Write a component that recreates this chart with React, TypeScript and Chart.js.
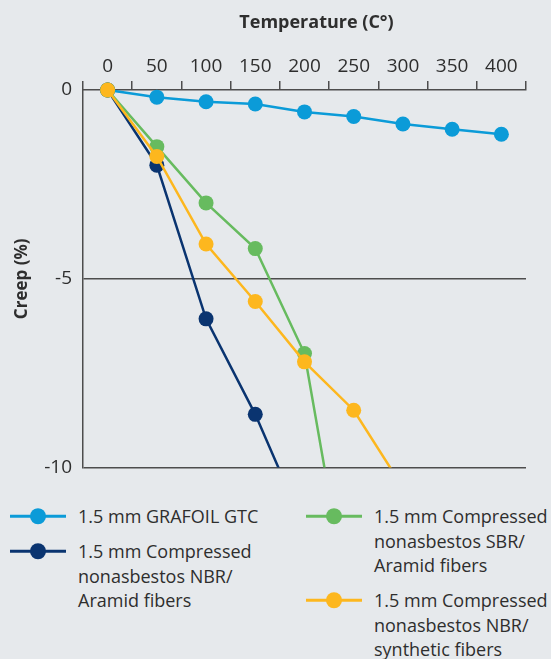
import React, { useEffect, useRef } from "react";
import { Chart, registerables } from "chart.js";

Chart.register(...registerables);

const temperatureLabels = ["0", "50", "100", "150", "200", "250", "300", "350", "400"];
const grafoilGtc = [0, -0.19, -0.31, -0.37, -0.58, -0.7, -0.9, -1.04, -1.17];
const nbrAramid = [0, -1.99, -6.06, -8.59, -11.59];
const sbrAramid = [0, -1.5, -2.99, -4.2, -6.98, -14.43];
const nbrSynthetic = [0, -1.76, -4.08, -5.6, -7.2, -8.48, -10.53];
const creepTicks = [-10, -5, 0];

const xTitle = "Temperature (C°)";
const yTitle = "Creep (%)";

const seriesColors = ["#0b9bd8", "#0a3470", "#67bb5f", "#fdb71e"];
const legendLines = [
  ["1.5 mm GRAFOIL GTC"],
  ["1.5 mm Compressed", "nonasbestos NBR/", "Aramid fibers"],
  ["1.5 mm Compressed", "nonasbestos SBR/", "Aramid fibers"],
  ["1.5 mm Compressed", "nonasbestos NBR/", "synthetic fibers"],
];

const FONT = "'Open Sans', sans-serif";
const TEXT = "#2e2e2e";
const AXIS = "#4d4d4d";
const BG = "#e6e9ec";

function LegendItem({ idx }: { idx: number }) {
  const color = seriesColors[idx];
  return (
    <div style={{ display: "flex", alignItems: "flex-start", marginBottom: 10.5 }}>
      <svg width={56} height={24.5} style={{ flex: "0 0 auto" }}>
        <line x1={0} y1={12.25} x2={56} y2={12.25} stroke={color} strokeWidth={3} />
        <circle cx={28} cy={12.25} r={8} fill={color} />
      </svg>
      <div style={{ marginLeft: 12, lineHeight: "24.5px", fontSize: 18, color: TEXT, whiteSpace: "nowrap" }}>
        {legendLines[idx].map((l, i) => (
          <div key={i}>{l}</div>
        ))}
      </div>
    </div>
  );
}

export default function App() {
  const canvasRef = useRef<HTMLCanvasElement>(null);

  useEffect(() => {
    const canvas = canvasRef.current;
    if (!canvas) return;
    const xTitlePlugin = {
      id: "xTitlePlugin",
      afterDraw(chart: any) {
        const { ctx, chartArea } = chart;
        ctx.save();
        ctx.font = `bold 18px ${FONT}`;
        ctx.fillStyle = TEXT;
        ctx.textAlign = "center";
        ctx.textBaseline = "middle";
        ctx.fillText(xTitle, (chartArea.left + chartArea.right) / 2 + 12, 23);
        ctx.restore();
      },
    };
    const mk = (label: string, data: number[], color: string, order: number) => ({
      label,
      data,
      borderColor: color,
      backgroundColor: color,
      pointBackgroundColor: color,
      pointBorderColor: color,
      borderWidth: 2.5,
      pointRadius: 7.5,
      pointHoverRadius: 7.5,
      pointBorderWidth: 0,
      tension: 0,
      order,
      clip: { left: 12, top: 12, right: 12, bottom: 0 },
    });
    const chart = new Chart(canvas, {
      type: "line",
      data: {
        labels: temperatureLabels,
        datasets: [
          mk(legendLines[0].join(" "), grafoilGtc, seriesColors[0], 3),
          mk(legendLines[1].join(" "), nbrAramid, seriesColors[1], 2),
          mk(legendLines[2].join(" "), sbrAramid, seriesColors[2], 1),
          mk(legendLines[3].join(" "), nbrSynthetic, seriesColors[3], 0),
        ],
      },
      options: {
        responsive: false,
        animation: false,
        layout: { padding: { left: 0, right: 25, top: 0, bottom: 2 } },
        plugins: { legend: { display: false }, tooltip: { enabled: false } },
        scales: {
          x: {
            type: "category",
            position: "top",
            offset: true,
            grid: {
              offset: true,
              drawOnChartArea: false,
              drawTicks: true,
              tickLength: 9,
              color: AXIS,
              lineWidth: 1.5,
            },
            border: { display: true, color: AXIS, width: 1.5 },
            ticks: {
              padding: 3,
              color: TEXT,
              font: { family: FONT, size: 19 },
              maxRotation: 0,
              autoSkip: false,
            },
            afterFit: (s: any) => {
              s.height = 90;
            },
          },
          y: {
            type: "linear",
            min: -10,
            max: 0,
            afterBuildTicks: (s: any) => {
              s.ticks = creepTicks.map((v) => ({ value: v }));
            },
            grid: {
              color: (c: any) => (c.tick && c.tick.value === 0 ? "rgba(0,0,0,0)" : AXIS),
              lineWidth: 1.5,
              drawTicks: false,
            },
            border: { display: true, color: AXIS, width: 1.5 },
            ticks: {
              padding: 11,
              color: TEXT,
              font: { family: FONT, size: 19 },
            },
            title: {
              display: true,
              text: yTitle,
              color: TEXT,
              font: { family: FONT, size: 17, weight: "bold" },
              padding: { top: 12, bottom: 0 },
            },
            afterFit: (s: any) => {
              s.width = 83;
            },
          },
        },
      } as any,
      plugins: [xTitlePlugin],
    });
    return () => chart.destroy();
  }, []);

  return (
    <div
      style={{
        position: "absolute",
        left: 0,
        top: 0,
        width: 551,
        height: 659,
        background: BG,
        fontFamily: FONT,
        overflow: "hidden",
      }}
    >
      <canvas ref={canvasRef} width={551} height={490} style={{ display: "block" }} />
      <div style={{ position: "absolute", top: 504, left: 10, display: "flex" }}>
        <div style={{ width: 296 }}>
          <LegendItem idx={0} />
          <LegendItem idx={1} />
        </div>
        <div>
          <LegendItem idx={2} />
          <LegendItem idx={3} />
        </div>
      </div>
    </div>
  );
}
